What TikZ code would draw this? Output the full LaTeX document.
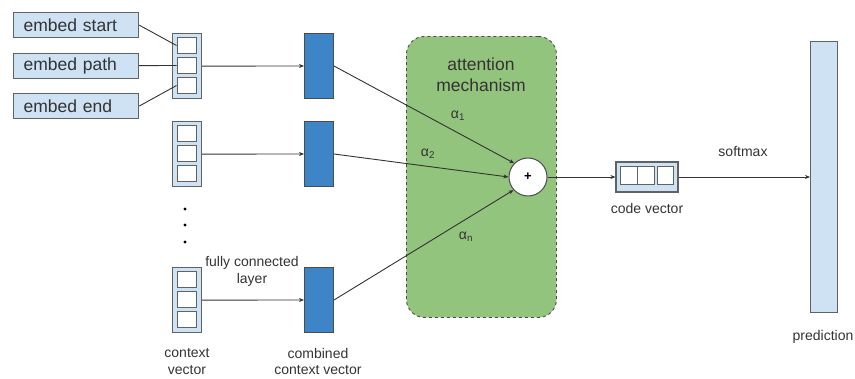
\documentclass[tikz,border=0pt]{standalone}
\usepackage{fontspec}
\setmainfont{Liberation Sans}
\usetikzlibrary{arrows.meta}
\definecolor{lightblue}{HTML}{CFE2F3}
\definecolor{midblue}{HTML}{3D85C6}
\definecolor{attgreen}{HTML}{93C47D}
\definecolor{edgegray}{HTML}{5F6368}
\definecolor{txt}{HTML}{333333}
\tikzset{
  embedbox/.style={draw=edgegray, line width=1.2pt, fill=lightblue, minimum width=125pt, minimum height=25pt, inner sep=0pt, font=\fontsize{17.5}{17.5}\selectfont, text=txt, anchor=north west, align=left, text width=110pt},
  vecbox/.style={draw=edgegray, line width=1.2pt, fill=lightblue, minimum width=29pt, minimum height=65pt, inner sep=0pt, anchor=north west},
  cellbox/.style={draw=edgegray, line width=1pt, fill=white, minimum width=19pt, minimum height=16.5pt, inner sep=0pt},
  fcbox/.style={draw=black!70, line width=1pt, fill=midblue, minimum width=29pt, minimum height=65pt, inner sep=0pt, anchor=north west},
  lbl/.style={font=\fontsize{14}{17}\selectfont, text=txt, align=center, inner sep=0pt},
  conn/.style={draw=black!80, line width=0.9pt},
  arr/.style={conn, -{Stealth[length=5pt,width=4pt]}},
}
\begin{document}
\begin{tikzpicture}[x=1pt,y=-1pt]
\useasboundingbox (0,0) rectangle (855,378);

% attention region
\node[draw=black!70, dashed, line width=0.9pt, fill=attgreen, rounded corners=18pt,
      minimum width=150pt, minimum height=281pt, anchor=north west, inner sep=0pt] (att) at (406,36) {};
\node[font=\fontsize{17.5}{21}\selectfont, text=txt, align=center] (atttitle) at (481,75) {attention\\mechanism};

% embeddings
\node[embedbox] (es) at (13,12) {\hspace{2.5pt}embed start};
\node[embedbox] (ep) at (13,52.5) {\hspace{2.5pt}embed path};
\node[embedbox] (ee) at (13,93) {\hspace{2.5pt}embed end};

% context vectors
\foreach \i/\y in {1/33,2/121,3/267}{
  \node[vecbox] (ctx\i) at (172,\y) {};
  \node[cellbox] (ctx\i a) at (186.5,\y+12.5) {};
  \node[cellbox] (ctx\i b) at (186.5,\y+32.5) {};
  \node[cellbox] (ctx\i c) at (186.5,\y+52.5) {};
  \node[fcbox] (fc\i) at (304,\y) {};
}

% dots
\foreach \yy/\n in {209/d1,225/d2,242/d3}{
  \fill (185,\yy) circle (1.6pt) coordinate (\n);
}

% sum node
\node[draw=black!70, line width=1pt, fill=white, circle, minimum size=38pt, inner sep=0pt, font=\fontsize{13}{13}\selectfont\bfseries] (sum) at (528,177) {+};

% code vector
\node[draw=edgegray, line width=1.2pt, fill=lightblue, minimum width=62pt, minimum height=30pt, inner sep=0pt] (code) at (647,177) {};
\node[cellbox, minimum width=17pt, minimum height=18pt] (codea) at (628.5,175) {};
\node[cellbox, minimum width=17pt, minimum height=18pt] (codeb) at (646,175) {};
\node[cellbox, minimum width=16pt, minimum height=18pt] (codec) at (665.5,175) {};

% prediction
\node[draw=edgegray, line width=1.2pt, fill=lightblue, minimum width=27pt, minimum height=271pt, inner sep=0pt, anchor=north west] (pred) at (810,41) {};

% embedding connectors
\draw[conn] (es.east) -- (ctx1a.west);
\draw[conn] (ep.east) -- (ctx1b.west);
\draw[conn] (ee.east) -- (ctx1c.west);

% fully connected layer
\foreach \i in {1,2,3}{
  \draw[arr] (ctx\i.east) -- (fc\i.west);
}

% attention weights
\draw[arr] (fc1.east) -- (sum.135);
\draw[arr] (fc2.east) -- (sum.west);
\draw[arr] (fc3.east) -- (sum.222);
\draw[arr] (sum.east) -- (code.west);
\draw[arr] (code.east) -- (code.east -| pred.west);

% labels
\node[lbl] (a1) at (458,116) {α\textsubscript{1}};
\node[lbl] (a2) at (428,154) {α\textsubscript{2}};
\node[lbl] (an) at (466,237) {α\textsubscript{n}};
\node[lbl] (fcl) at (252,271) {fully connected\\layer};
\node[lbl, font=\fontsize{14}{16.5}\selectfont] (ctxl) at (187,361.5) {context\\vector};
\node[lbl, font=\fontsize{14}{16.5}\selectfont] (cctxl) at (318,361.5) {combined\\context vector};
\node[lbl] (codel) at (647,208) {code vector};
\node[lbl] (smx) at (743,151) {softmax};
\node[lbl] (predl) at (823,337) {prediction};
\end{tikzpicture}
\end{document}
